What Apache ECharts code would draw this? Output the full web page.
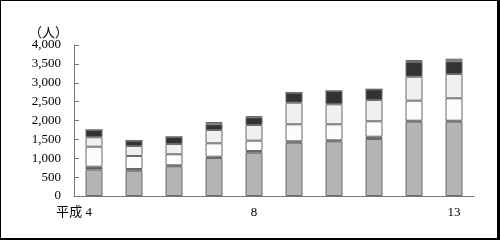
<!DOCTYPE html>
<html>
<head>
<meta charset="utf-8">
<script src="https://cdn.jsdelivr.net/npm/echarts@6/dist/echarts.min.js"></script>
<style>
html,body{margin:0;padding:0;background:#fff;}
#wrap{position:relative;width:500px;height:240px;}
#chart{position:absolute;left:0;top:0;width:500px;height:240px;}
#frame{position:absolute;left:0;top:0;width:500px;height:240px;box-sizing:border-box;border-style:solid;border-color:#000;border-width:1px 3px 2px 1px;pointer-events:none;}
</style>
</head>
<body>
<div id="wrap"><div id="chart"></div><div id="frame"></div></div>
<script>
const categories = ['4','5','6','7','8','9','10','11','12','13'];
const shownLabels = {0:'平成 4', 4:'8', 9:'13'};
const yTicks = [0,500,1000,1500,2000,2500,3000,3500,4000];
const seriesA = [700, 670, 787, 1007, 1147, 1412, 1449, 1510, 1973, 1973];
const seriesB = [76, 45, 26, 34, 45, 37, 26, 61, 22, 22];
const seriesC = [530, 345, 292, 355, 274, 450, 424, 408, 530, 593];
const seriesD = [249, 265, 272, 352, 415, 573, 530, 564, 635, 644];
const seriesE = [193, 141, 186, 151, 204, 265, 352, 283, 390, 335];
const seriesF = [0, 0, 0, 61, 34, 0, 0, 0, 53, 71];

const colors = ['#b4b4b4', '#555555', '#fcfcfc', '#f0f0f0', '#333333', '#9a9a9a'];
const font = '"Liberation Serif", "DejaVu Serif", "Noto Sans CJK JP", serif';

const chart = echarts.init(document.getElementById('chart'), null, {renderer:'canvas'});
const mk = (name, data, i) => ({
  name, type:'bar', stack:'total', data, barWidth:17,
  itemStyle:{color:colors[i], borderColor:'#6a6a6a', borderWidth:1},
  animation:false
});
chart.setOption({
  animation:false,
  title:{text:'（人）', left:24, top:22, textStyle:{fontFamily:font, fontSize:13, fontWeight:'normal', color:'#000'}},
  grid:{left:74, right:26, top:45, bottom:44},
  xAxis:{
    type:'category', data:categories,
    axisLine:{lineStyle:{color:'#777', width:1}},
    axisTick:{inside:true, length:4, interval:0, lineStyle:{color:'#777'}},
    axisLabel:{
      interval:0, margin:10, color:'#000', fontFamily:font, fontSize:13,
      formatter:(v, i) => {
        const s = shownLabels[i];
        if (s === undefined) return '';
        if (i === 0) return '{a|' + s + '}{b|}';
        return s;
      },
      rich:{a:{fontFamily:font, fontSize:13, color:'#000'}, b:{width:40}}
    }
  },
  yAxis:{
    type:'value', min:0, max:4000, interval:500,
    axisLine:{show:true, lineStyle:{color:'#777'}},
    axisTick:{show:true, inside:true, length:5, lineStyle:{color:'#777'}},
    splitLine:{show:false},
    axisLabel:{margin:13, color:'#000', fontFamily:font, fontSize:13,
      formatter:v => yTicks.includes(v) ? v.toLocaleString('en-US') : ''}
  },
  series:[
    mk('A', seriesA, 0), mk('B', seriesB, 1), mk('C', seriesC, 2),
    mk('D', seriesD, 3), mk('E', seriesE, 4), mk('F', seriesF, 5)
  ]
});
</script>
</body>
</html>
